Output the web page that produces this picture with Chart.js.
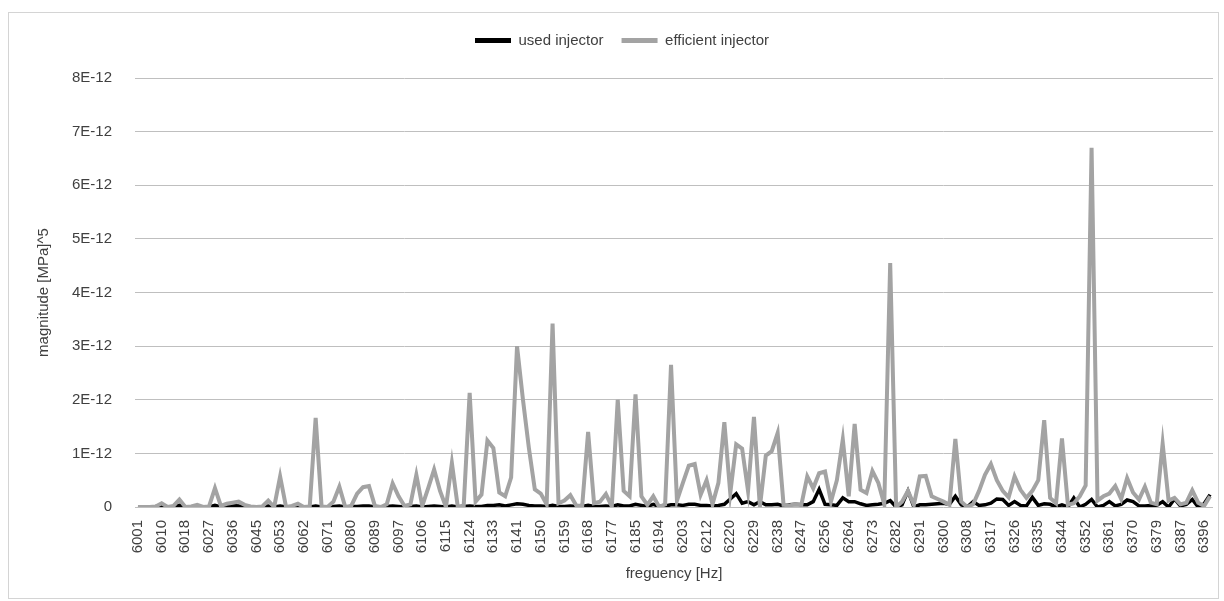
<!DOCTYPE html>
<html>
<head>
<meta charset="utf-8">
<script src="https://cdn.jsdelivr.net/npm/chart.js@4.4.1/dist/chart.umd.min.js"></script>
<style>
html,body{margin:0;padding:0;background:#fff;}
#wrap{position:relative;width:1224px;height:601px;overflow:hidden;}
#frame{position:absolute;left:8px;top:12px;width:1211px;height:587px;border:1px solid #d4d4d4;box-sizing:border-box;pointer-events:none;}
canvas{position:absolute;left:0;top:0;}
</style>
</head>
<body>
<div id="wrap"><canvas id="c" width="1224" height="601"></canvas><div id="frame"></div></div>
<script>
// Tick labels of the frequency axis (one every 4th category)
const tickLabels = [
  '6001','6010','6018','6027','6036','6045','6053','6062','6071','6080',
  '6089','6097','6106','6115','6124','6133','6141','6150','6159','6168',
  '6177','6185','6194','6203','6212','6220','6229','6238','6247','6256',
  '6264','6273','6282','6291','6300','6308','6317','6326','6335','6344',
  '6352','6361','6370','6379','6387','6396'
];
const labelEvery = 4;

// magnitude values, in units of 1E-12 [MPa]^5
const usedInjector = [
  0.0, 0.0, 0.0, 0.01, 0.03, 0.0, 0.01, 0.03, 0.0, 0.0,
  0.01, 0.0, 0.0, 0.03, 0.0, 0.01, 0.03, 0.02, 0.0, 0.0,
  0.0, 0.0, 0.02, 0.0, 0.02, 0.0, 0.0, 0.01, 0.0, 0.0,
  0.02, 0.0, 0.0, 0.01, 0.02, 0.0, 0.01, 0.01, 0.02, 0.02,
  0.0, 0.0, 0.01, 0.02, 0.01, 0.0, 0.01, 0.02, 0.0, 0.01,
  0.02, 0.01, 0.0, 0.02, 0.0, 0.01, 0.02, 0.01, 0.01, 0.03,
  0.03, 0.04, 0.02, 0.04, 0.06, 0.05, 0.03, 0.02, 0.02, 0.01,
  0.03, 0.01, 0.01, 0.02, 0.01, 0.01, 0.03, 0.01, 0.01, 0.02,
  0.01, 0.04, 0.02, 0.02, 0.05, 0.03, 0.01, 0.05, 0.01, 0.02,
  0.04, 0.04, 0.03, 0.05, 0.05, 0.03, 0.03, 0.02, 0.03, 0.05,
  0.15, 0.25, 0.07, 0.1, 0.04, 0.1, 0.04, 0.04, 0.05, 0.02,
  0.04, 0.05, 0.04, 0.04, 0.1, 0.33, 0.05, 0.04, 0.03, 0.17,
  0.1, 0.1, 0.06, 0.03, 0.04, 0.05, 0.07, 0.12, 0.0, 0.04,
  0.3, 0.0, 0.04, 0.04, 0.05, 0.06, 0.07, 0.05, 0.2, 0.04,
  0.0, 0.1, 0.03, 0.04, 0.07, 0.15, 0.14, 0.03, 0.1, 0.03,
  0.02, 0.18, 0.03, 0.06, 0.05, 0.0, 0.04, 0.0, 0.17, 0.0,
  0.05, 0.14, 0.0, 0.03, 0.1, 0.02, 0.05, 0.13, 0.1, 0.02,
  0.02, 0.03, 0.03, 0.1, 0.0, 0.15, 0.02, 0.05, 0.14, 0.0,
  0.06, 0.23
];
const efficientInjector = [
  0.0, 0.0, 0.0, 0.01, 0.07, 0.0, 0.02, 0.14, 0.0, 0.01,
  0.04, 0.0, 0.01, 0.35, 0.02, 0.06, 0.08, 0.1, 0.04, 0.01,
  0.0, 0.01, 0.12, 0.0, 0.57, 0.0, 0.02, 0.06, 0.0, 0.01,
  1.66, 0.01, 0.0, 0.1, 0.38, 0.0, 0.02, 0.25, 0.37, 0.39,
  0.02, 0.0, 0.05, 0.44, 0.2, 0.02, 0.05, 0.6, 0.02, 0.35,
  0.7, 0.3, 0.0, 0.82, 0.0, 0.03, 2.13, 0.1, 0.23, 1.24,
  1.1, 0.27, 0.2, 0.55, 3.0, 2.0, 1.1, 0.33, 0.25, 0.05,
  3.42, 0.07, 0.12, 0.22, 0.03, 0.02, 1.4, 0.07, 0.1, 0.24,
  0.01, 2.0, 0.3, 0.2, 2.1, 0.2, 0.04, 0.2, 0.0, 0.05,
  2.65, 0.12, 0.45, 0.77, 0.8, 0.23, 0.5, 0.05, 0.45, 1.58,
  0.26, 1.17, 1.09, 0.3, 1.68, 0.0, 0.96, 1.04, 1.38, 0.04,
  0.03, 0.05, 0.04, 0.57, 0.35, 0.63, 0.66, 0.1, 0.5, 1.26,
  0.2, 1.55, 0.32, 0.26, 0.67, 0.45, 0.05, 4.55, 0.0, 0.1,
  0.3, 0.04, 0.57, 0.58, 0.2, 0.15, 0.1, 0.04, 1.27, 0.1,
  0.0, 0.05, 0.3, 0.6, 0.8, 0.5, 0.3, 0.18, 0.57, 0.32,
  0.17, 0.3, 0.5, 1.62, 0.17, 0.07, 1.28, 0.04, 0.07, 0.2,
  0.4, 6.7, 0.12, 0.2, 0.25, 0.39, 0.15, 0.54, 0.27, 0.14,
  0.38, 0.08, 0.05, 1.18, 0.12, 0.17, 0.05, 0.08, 0.31, 0.08,
  0.02, 0.2
];
const yMin = 0, yMax = 8, yStep = 1; // in 1E-12

// category list: one entry per data point, labelled every 4th point
const categories = efficientInjector.map((_, i) =>
  (i % labelEvery === 0 && tickLabels[i / labelEvery] !== undefined) ? tickLabels[i / labelEvery] : '');

Chart.defaults.font.family = "'Liberation Sans', Arial, sans-serif";
Chart.defaults.font.size = 15;
Chart.defaults.color = '#404040';

const legendSpacer = {
  id: 'legendSpacer',
  beforeInit(chart) {
    const orig = chart.legend.fit;
    chart.legend.fit = function () { orig.call(this); this.height += 20; };
  }
};

new Chart(document.getElementById('c'), {
  type: 'line',
  data: {
    labels: categories,
    datasets: [
      {
        label: 'used injector',
        data: usedInjector,
        borderColor: '#000000',
        backgroundColor: '#000000',
        borderWidth: 3.5,
        pointRadius: 0,
        tension: 0,
        order: 2
      },
      {
        label: 'efficient injector',
        data: efficientInjector,
        borderColor: '#a3a3a3',
        backgroundColor: '#a3a3a3',
        borderWidth: 4,
        pointRadius: 0,
        tension: 0,
        order: 1
      }
    ]
  },
  options: {
    responsive: false,
    animation: false,
    layout: { padding: { left: 31, right: 11, top: 15, bottom: 14 } },
    plugins: {
      tooltip: { enabled: false },
      legend: {
        position: 'top',
        labels: {
          boxWidth: 36,
          boxHeight: 5,
          padding: 18,
          font: { size: 15 },
          color: '#404040',
          sort: (a, b) => a.datasetIndex - b.datasetIndex,
          generateLabels(chart) {
            const items = Chart.defaults.plugins.legend.labels.generateLabels(chart);
            items.forEach(it => { it.lineWidth = 0; it.fillStyle = it.strokeStyle; });
            return items;
          }
        }
      }
    },
    scales: {
      x: {
        type: 'category',
        offset: true,
        grid: { display: false, drawTicks: false },
        border: { display: false },
        ticks: {
          autoSkip: false,
          maxRotation: 90,
          minRotation: 90,
          padding: 13,
          color: '#404040',
          font: { size: 15 }
        },
        title: {
          display: true,
          text: 'freguency [Hz]',
          color: '#404040',
          font: { size: 15 },
          padding: { top: 4, bottom: 4 }
        },
        afterFit(scale) { scale.height = 80; scale.paddingRight = 0; scale.paddingLeft = 0; }
      },
      y: {
        min: yMin,
        max: yMax,
        grid: { color: '#bfbfbf', lineWidth: 1, drawTicks: false },
        border: { display: false },
        ticks: {
          stepSize: yStep,
          padding: 23,
          color: '#404040',
          font: { size: 15 },
          callback: v => (v === 0 ? '0' : v + 'E-12')
        },
        title: {
          display: true,
          text: 'magnitude [MPa]^5',
          color: '#404040',
          font: { size: 15 },
          padding: { top: 4, bottom: 4 }
        },
        afterFit(scale) { scale.width = 104; }
      }
    }
  },
  plugins: [legendSpacer]
});
</script>
</body>
</html>
